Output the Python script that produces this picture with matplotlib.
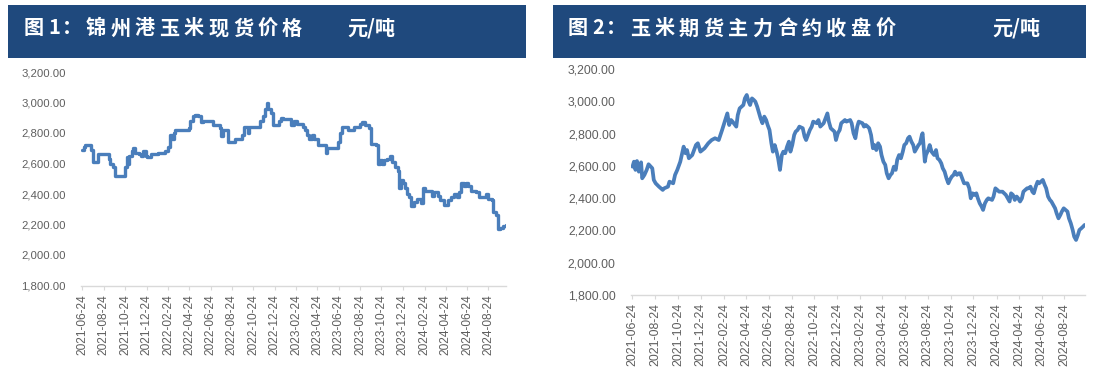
import matplotlib
matplotlib.use("Agg")
import matplotlib.pyplot as plt
from matplotlib.patches import Rectangle
import pandas as pd

W, H = 1101, 377

# ---------------- data ----------------
start_date = "2021-06-24"
tick_labels = ["2021-06-24", "2021-08-24", "2021-10-24", "2021-12-24",
               "2022-02-24", "2022-04-24", "2022-06-24", "2022-08-24",
               "2022-10-24", "2022-12-24", "2023-02-24", "2023-04-24",
               "2023-06-24", "2023-08-24", "2023-10-24", "2023-12-24",
               "2024-02-24", "2024-04-24", "2024-06-24", "2024-08-24"]
y_ticks = [1800, 2000, 2200, 2400, 2600, 2800, 3000, 3200]

# Fig 1: Jinzhou port spot price (days since start, yuan/t)
spot_day = [0, 4, 8, 24, 30, 44, 76, 80, 88, 92, 122, 126, 130, 134, 140, 144,
            150, 160, 166, 174, 180, 184, 196, 214, 234, 244, 249, 254, 260, 265,
            304, 308, 314, 320, 328, 338, 344, 372, 392, 396, 400, 416, 434, 454,
            460, 472, 476, 506, 514, 520, 525, 530, 536, 544, 560, 566, 571, 594,
            604, 612, 628, 634, 640, 646, 654, 660, 670, 694, 698, 728, 734, 740,
            757, 773, 791, 797, 805, 817, 823, 837, 843, 847, 853, 859, 869, 877,
            883, 891, 899, 903, 907, 913, 918, 924, 930, 936, 944, 952, 964, 970,
            976, 986, 995, 1003, 1013, 1019, 1029, 1041, 1051, 1059, 1067, 1074,
            1080, 1086, 1092, 1100, 1107, 1121, 1129, 1149, 1155, 1167, 1171, 1179,
            1183, 1191, 1199, 1206]
spot_price = [2690, 2710, 2720, 2690, 2610, 2660, 2630, 2600, 2580, 2520, 2580, 2640,
              2600, 2650, 2680, 2700, 2670, 2660, 2650, 2680, 2650, 2640, 2660, 2670,
              2680, 2710, 2790, 2760, 2800, 2820, 2830, 2880, 2910, 2920, 2910, 2870,
              2880, 2850, 2830, 2780, 2820, 2740, 2760, 2790, 2840, 2800, 2840, 2880,
              2910, 2960, 3000, 2960, 2930, 2850, 2880, 2900, 2890, 2850, 2880, 2860,
              2840, 2820, 2790, 2760, 2790, 2760, 2720, 2670, 2700, 2740, 2800, 2840,
              2820, 2840, 2860, 2870, 2850, 2830, 2730, 2720, 2600, 2620, 2600, 2620,
              2630, 2650, 2610, 2580, 2550, 2440, 2490, 2470, 2440, 2400, 2380, 2320,
              2350, 2370, 2340, 2440, 2420, 2420, 2390, 2410, 2390, 2360, 2330, 2360,
              2380, 2400, 2380, 2410, 2470, 2450, 2470, 2450, 2420, 2410, 2380, 2400,
              2370, 2360, 2280, 2260, 2170, 2180, 2190, 2200]

# Fig 2: corn futures main contract close (days since start, yuan/t)
fut_day = [0, 4, 8, 12, 17, 23, 26, 32, 38, 43, 53, 57, 62, 71, 81, 85, 95, 99, 109,
           114, 120, 128, 132, 137, 142, 146, 151, 160, 170, 175, 182, 193, 203, 212,
           221, 231, 240, 250, 254, 259, 264, 268, 278, 282, 287, 297, 301, 306, 311,
           315, 320, 325, 329, 334, 343, 348, 353, 358, 362, 367, 372, 376, 381, 386,
           390, 395, 400, 404, 409, 414, 419, 423, 428, 433, 437, 442, 447, 456, 461,
           465, 470, 475, 480, 484, 494, 498, 503, 512, 522, 526, 531, 541, 545, 550,
           555, 559, 569, 573, 583, 587, 592, 597, 602, 606, 616, 620, 625, 630, 634,
           639, 644, 648, 653, 658, 663, 667, 672, 677, 681, 686, 691, 695, 700, 705,
           709, 714, 719, 724, 728, 733, 738, 742, 747, 752, 756, 761, 766, 770, 775,
           777, 783, 786, 792, 796, 801, 808, 813, 817, 822, 827, 831, 836, 841, 846,
           850, 855, 860, 864, 869, 874, 878, 883, 888, 897, 902, 906, 911, 916, 921,
           925, 930, 935, 939, 944, 949, 953, 963, 967, 972, 977, 982, 991, 1000, 1005,
           1010, 1014, 1019, 1024, 1029, 1033, 1038, 1043, 1047, 1052, 1057, 1061,
           1066, 1071, 1075, 1080, 1085, 1089, 1094, 1099, 1104, 1108, 1113, 1118,
           1122, 1127, 1132, 1136, 1141, 1146, 1150, 1155, 1160, 1165, 1167, 1169,
           1174, 1179, 1183, 1188, 1193, 1197, 1202, 1207, 1211]
fut_price = [2595, 2626, 2575, 2630, 2564, 2622, 2523, 2544, 2575, 2610, 2585, 2513,
             2492, 2471, 2451, 2461, 2471, 2502, 2492, 2544, 2575, 2626, 2667, 2719,
             2678, 2698, 2647, 2667, 2729, 2740, 2688, 2709, 2740, 2760, 2771, 2760,
             2822, 2895, 2925, 2853, 2884, 2874, 2843, 2915, 2956, 2977, 3018, 3039,
             2998, 2977, 3018, 3008, 2998, 2967, 2895, 2864, 2905, 2884, 2853, 2822,
             2740, 2688, 2729, 2688, 2647, 2575, 2667, 2688, 2678, 2719, 2750, 2688,
             2729, 2791, 2812, 2822, 2843, 2833, 2781, 2760, 2791, 2822, 2843, 2874,
             2864, 2884, 2843, 2864, 2925, 2874, 2833, 2812, 2760, 2802, 2822, 2864,
             2884, 2874, 2884, 2864, 2802, 2771, 2843, 2874, 2864, 2843, 2853, 2843,
             2833, 2791, 2709, 2729, 2698, 2740, 2719, 2667, 2626, 2606, 2554, 2523,
             2544, 2554, 2595, 2575, 2637, 2667, 2647, 2688, 2729, 2740, 2771, 2781,
             2750, 2729, 2688, 2709, 2729, 2740, 2791, 2802, 2626, 2667, 2698, 2729,
             2688, 2667, 2698, 2647, 2637, 2616, 2585, 2564, 2523, 2492, 2513, 2533,
             2544, 2564, 2544, 2554, 2554, 2523, 2492, 2492, 2461, 2399, 2430, 2420,
             2430, 2399, 2368, 2348, 2327, 2368, 2389, 2399, 2389, 2410, 2461, 2451,
             2440, 2440, 2420, 2399, 2379, 2430, 2420, 2389, 2410, 2399, 2379, 2399,
             2440, 2451, 2461, 2461, 2471, 2440, 2430, 2471, 2502, 2492, 2502, 2513,
             2482, 2461, 2410, 2389, 2379, 2358, 2337, 2306, 2275, 2296, 2317, 2337,
             2327, 2317, 2296, 2275, 2244, 2203, 2162, 2141, 2172, 2203, 2213, 2224,
             2234]

title1 = "图1：锦州港玉米现货价格"
title2 = "图2：玉米期货主力合约收盘价"
unit = "元/吨"

# ---------------- styling ----------------
LINE = "#4a7ebb"
BAR = "#1f497d"
GREY = "#5f5f5f"
t0 = pd.Timestamp(start_date)

fig = plt.figure(figsize=(W / 100, H / 100), dpi=100)
fig.patch.set_facecolor("white")


def px(x, y):
    return x / W, 1 - y / H


def header(x0, x1, title, tx, ux):
    fig.patches.append(Rectangle(px(x0, 58), (x1 - x0) / W, 53 / H,
                                 transform=fig.transFigure, facecolor=BAR,
                                 edgecolor="none", zorder=0))
    x = tx
    for ch in title:
        fig.text(*px(x, 28), ch, color="white", fontsize=14.5, fontweight="bold",
                 family=["Noto Sans CJK SC", "DejaVu Sans"], ha="left", va="center")
        x += 24.5 if ord(ch) > 0x2000 else 13
    fig.text(*px(ux, 28), unit, color="white", fontsize=14.5, fontweight="bold",
             family=["Noto Sans CJK SC", "DejaVu Sans"], ha="left", va="center")


def panel(rect, days, vals, steps, ylab_fs, xlab_fs, end_day, ypad, lw):
    ax = fig.add_axes(rect)
    dates = t0 + pd.to_timedelta(days, unit="D")
    ax.plot(dates, vals, color=LINE, lw=lw,
            drawstyle="steps-post" if steps else "default",
            solid_joinstyle="round", solid_capstyle="round")
    ax.set_ylim(1800, 3200)
    ax.set_xlim(t0 - pd.Timedelta(days=4), t0 + pd.Timedelta(days=end_day))
    ax.set_yticks(y_ticks)
    ax.set_yticklabels([f"{v:,.2f}" for v in y_ticks], fontsize=ylab_fs,
                       color=GREY, family="Liberation Sans")
    ax.set_xticks(pd.to_datetime(tick_labels))
    ax.set_xticklabels(tick_labels, rotation=90, fontsize=xlab_fs, color=GREY,
                       family="Liberation Sans")
    for s in ("top", "right", "left"):
        ax.spines[s].set_visible(False)
    ax.spines["bottom"].set_color("#d9d9d9")
    ax.spines["bottom"].set_linewidth(1.0)
    ax.tick_params(axis="y", length=0, pad=ypad)
    ax.tick_params(axis="x", length=3, color="#d9d9d9", pad=3)
    return ax


header(8, 526, title1, 24, 347)
header(553, 1086, title2, 568, 992)

panel([81 / W, 1 - 285.5 / H, 425 / W, 213.5 / H], spot_day, spot_price, True,
      8.2, 8.6, 1207, 11, 2.4)
panel([631 / W, 1 - 295 / H, 454 / W, 226 / H], fut_day, fut_price, False,
      8.8, 8.9, 1212, 11, 2.7)

fig.savefig("out.png", dpi=100, facecolor="white")
